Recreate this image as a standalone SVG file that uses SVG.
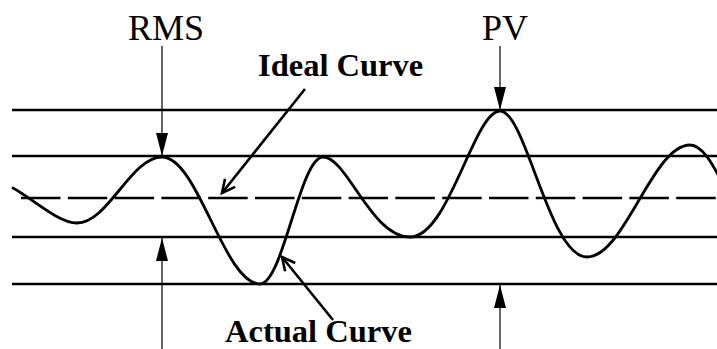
<svg xmlns="http://www.w3.org/2000/svg" width="717" height="349" viewBox="0 0 717 349">
<style>
.bg{fill:#ffffff}
.ref{stroke:#000;stroke-width:2.5;fill:none}
.dash{stroke:#000;stroke-width:2.7;fill:none;stroke-dasharray:39.5 7.3}
.curve{stroke:#000;stroke-width:2.8;fill:none;stroke-linejoin:round;stroke-linecap:round}
.thin{stroke:#000;stroke-width:1.2;fill:none}
.thick{stroke:#000;stroke-width:2.6;fill:none}
.lbl{font-family:"Liberation Serif","Times New Roman",serif;font-size:36px;fill:#000}
.blbl{font-family:"Liberation Serif","Times New Roman",serif;font-size:32.5px;font-weight:bold;fill:#000}
</style>
<defs>
<marker id="tri" viewBox="0 0 23 12" refX="23" refY="6" markerWidth="23" markerHeight="12" markerUnits="userSpaceOnUse" orient="auto">
<path d="M0,0 L23,6 L0,12 Z" fill="#000"/>
</marker>
<marker id="vee" viewBox="-2 -2 18 18" refX="13" refY="6.5" markerWidth="18" markerHeight="18" markerUnits="userSpaceOnUse" orient="auto" overflow="visible">
<path d="M0,0 L13,6.5 L0,13" fill="none" stroke="#000" stroke-width="2.6" stroke-linejoin="miter"/>
</marker>
</defs>
<rect class="bg" x="0" y="0" width="717" height="349"/>
<g id="reference-lines">
<line class="ref" x1="12" y1="110" x2="717" y2="110"/>
<line class="ref" x1="12" y1="156" x2="717" y2="156"/>
<line class="dash" x1="21" y1="198" x2="717" y2="198"/>
<line class="ref" x1="12" y1="237" x2="717" y2="237"/>
<line class="ref" x1="12" y1="284" x2="717" y2="284"/>
</g>
<g id="actual-curve">
<path class="curve" d="M13,188 C30,197 58,223 77,223 C108,223 131,157 162,157 C198,157 224,284 260,284 C283,284 300,157 323,157 C347,157 371,237 410,237 C449,237 474,111 500,111 C526,111 549,257 587,257 C624.5,257 652.5,145 690,145 C702,145 712,163 722,182"/>
</g>
<g id="labels">
<text class="lbl" x="166" y="40" text-anchor="middle">RMS</text>
<text class="lbl" x="505" y="40" text-anchor="middle">PV</text>
<text class="blbl" x="258" y="76">Ideal Curve</text>
<text class="blbl" x="225" y="342">Actual Curve</text>
</g>
<g id="connectors">
<line class="thin" x1="162" y1="46" x2="162" y2="156" marker-end="url(#tri)"/>
<line class="thin" x1="162" y1="349" x2="162" y2="238" marker-end="url(#tri)"/>
<line class="thin" x1="500" y1="46" x2="500" y2="110" marker-end="url(#tri)"/>
<line class="thin" x1="500" y1="349" x2="500" y2="285" marker-end="url(#tri)"/>
<line class="thick" x1="305" y1="89" x2="222" y2="193" marker-end="url(#vee)"/>
<line class="thick" x1="333" y1="320" x2="282" y2="257" marker-end="url(#vee)"/>
</g>
</svg>
